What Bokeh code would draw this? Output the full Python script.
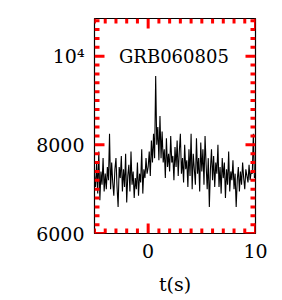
from bokeh.plotting import figure
from bokeh.models import FixedTicker, Range1d
from bokeh.core.properties import value
from bokeh.embed import file_html
from bokeh.resources import INLINE

title = "GRB060805"
x_label = "t(s)"
x_major = [0, 10]
x_minor = list(range(-5, 11))
y_major = [6000, 8000, 10000]
y_minor = list(range(6000, 10801, 200))
y_labels = {6000: "6000", 8000: "8000", 10000: "10\u2074"}

counts = [
    7300, 7050, 7600, 6900, 7850, 6750, 7400, 7100, 7700, 6950,
    7350, 7000, 7500, 7200, 8250, 7000, 7600, 7150, 6850, 7450,
    7700, 7050, 6600, 7500, 7250, 7750, 6950, 7450, 7050, 7800,
    6700, 7300, 7550, 6950, 7850, 7100, 7400, 6800, 7250, 7000,
    7600, 6850, 7350, 7150, 7900, 6900, 7450, 7250, 7700, 7350,
    7500, 7850, 7300, 8100, 7600, 8250, 7700, 9550, 8000, 8400,
    7650, 8650, 7700, 8300, 7600, 7900, 7250, 8150, 7500, 7800,
    7400, 8200, 7600, 7750, 7200, 7950, 7500, 8100, 7300, 7850,
    8250, 7350, 7700, 7150, 8000, 7450, 7650, 7050, 7900, 7300,
    8250, 7000, 7800, 7450, 7100, 8150, 7350, 7700, 6950, 8050,
    7400, 7900, 7100, 8200, 7550, 7000, 7700, 6600, 7450, 7900,
    7200, 7750, 7050, 7600, 7350, 8000, 7050, 7500, 6900, 7700,
    7250, 7600, 6800, 7450, 7100, 7850, 6950, 7400, 7200, 7650,
    7000, 7350, 6600, 7200, 7500, 6950, 7400, 7100, 7600, 7250,
    7000, 7450, 7300, 7150, 7550, 7200, 7400, 7350, 8250, 7250,
    7300,
]
times = [round(-5 + 0.1 * i, 2) for i in range(len(counts))]

FONT = "DejaVu Serif"
W, H = 282, 300
BL, BR, BT, BB = 94, 27, 18, 67
XR = (-5, 10)
YR = (6000, 10850)

p = figure(width=W, height=H, x_range=Range1d(*XR), y_range=Range1d(*YR),
           output_backend="svg", toolbar_location=None,
           min_border_left=BL, min_border_right=BR, min_border_top=BT, min_border_bottom=BB)
p.outline_line_color = "black"
p.outline_line_width = 1.2
p.xgrid.grid_line_color = None
p.ygrid.grid_line_color = None

for ax in (p.xaxis[0], p.yaxis[0]):
    ax.axis_line_color = None
    ax.major_tick_line_color = None
    ax.minor_tick_line_color = None
    ax.major_tick_out = 0
    ax.minor_tick_out = 0
    ax.major_label_text_font = FONT
    ax.major_label_text_font_size = "19px"
    ax.major_label_text_color = "black"
    ax.major_label_standoff = 10

p.xaxis[0].ticker = FixedTicker(ticks=x_major, minor_ticks=[])
p.yaxis[0].ticker = FixedTicker(ticks=y_major, minor_ticks=[])
p.yaxis[0].major_label_overrides = y_labels
p.xaxis[0].axis_label = x_label
p.xaxis[0].axis_label_text_font = FONT
p.xaxis[0].axis_label_text_font_size = "19px"
p.xaxis[0].axis_label_text_font_style = "normal"
p.xaxis[0].axis_label_text_color = "black"
p.xaxis[0].axis_label_standoff = 12

p.line(times, counts, line_color="black", line_width=1.1)

xpp = (XR[1] - XR[0]) / (W - BL - BR)
ypp = (YR[1] - YR[0]) / (H - BT - BB)
MAJ, MIN = 10, 5
x0s, x1s, y0s, y1s = [], [], [], []
for v in x_minor:
    L = MAJ if v in x_major else MIN
    x0s += [v, v]; x1s += [v, v]
    y0s += [YR[0], YR[1]]; y1s += [YR[0] + L * ypp, YR[1] - L * ypp]
for v in y_minor:
    L = MAJ if v in y_major else MIN
    y0s += [v, v]; y1s += [v, v]
    x0s += [XR[0], XR[1]]; x1s += [XR[0] + L * xpp, XR[1] - L * xpp]
p.segment(x0=x0s, y0=y0s, x1=x1s, y1=y1s, line_color="red", line_width=3)

p.text(x=[2.4], y=[10000], text=[title], text_align="center", text_baseline="middle",
       text_font=value(FONT), text_font_size="18px", text_color="black")

open("out.html", "w").write(file_html(p, INLINE))
